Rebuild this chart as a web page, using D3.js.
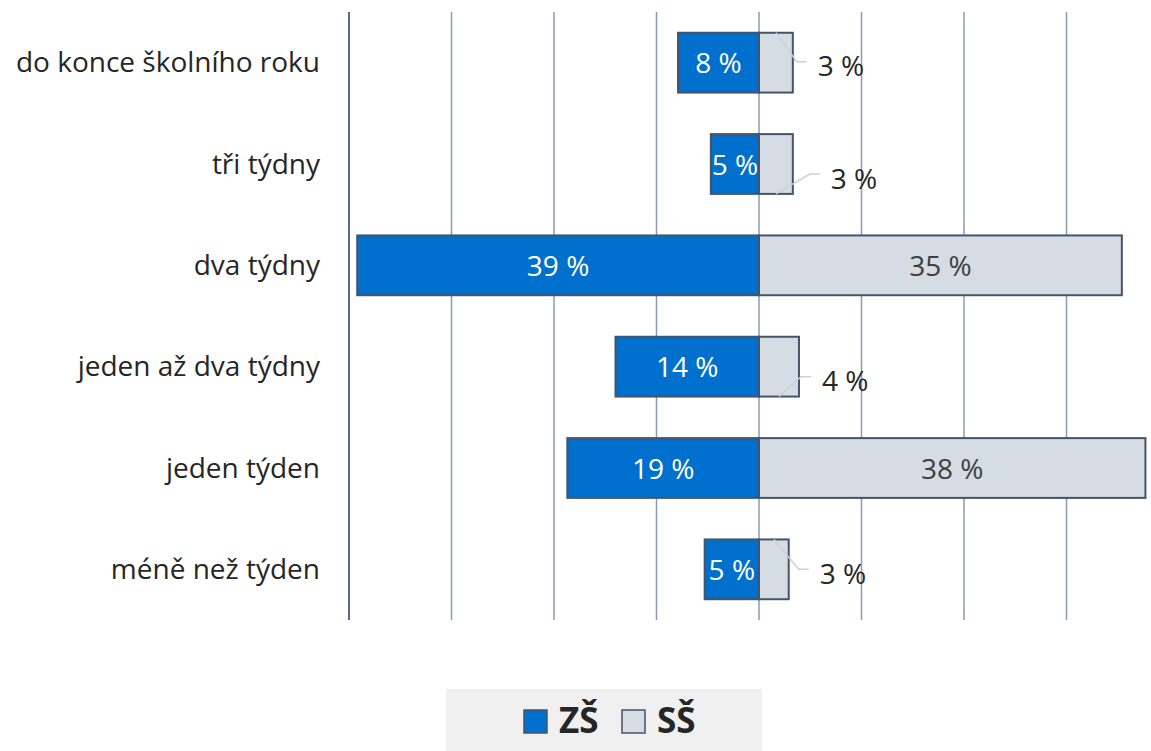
<!DOCTYPE html>
<html><head><meta charset="utf-8">
<script src="https://cdn.jsdelivr.net/npm/d3@7"></script>
<style>body{margin:0;background:#fff;} svg{display:block;font-family:"Open Sans","Noto Sans",sans-serif;}</style>
</head><body><svg id="c" width="1151" height="751"></svg>
<script>
const categories = ["do konce školního roku","tři týdny","dva týdny","jeden až dva týdny","jeden týden","méně než týden"];
const zsValues = [7.9, 4.7, 39.2, 14.0, 18.7, 5.3];
const ssValues = [3.3, 3.3, 35.4, 3.9, 37.7, 2.9];
const zsLabels = ["8 %","5 %","39 %","14 %","19 %","5 %"];
const ssLabels = ["3 %","3 %","35 %","4 %","38 %","3 %"];
const seriesNames = ["ZŠ","SŠ"];
const gridTicks = [-40,-30,-20,-10,0,10,20,30,40];
// callout offsets for small SS labels (layout only)
const callouts = {0:{dx:25,dy:4,anchor:"top"},1:{dx:38,dy:15,anchor:"bottom"},3:{dx:23,dy:15,anchor:"bottom"},5:{dx:31,dy:5,anchor:"top"}};

const svg = d3.select("#c");
const x = d3.scaleLinear().domain([-40,40]).range([349,1169]);
const y = d3.scaleBand().domain(categories).range([12,620]).paddingInner(0.41).paddingOuter(0.205);
const blue="#0070CE", grey="#D6DCE4", stroke="#44546A";

svg.append("g").selectAll("line").data(gridTicks.filter(t=>t>-40)).join("line")
  .attr("x1",d=>x(d)).attr("x2",d=>x(d)).attr("y1",12).attr("y2",620)
  .attr("stroke","#8C9BB5").attr("stroke-width",1.5);
svg.append("line").attr("x1",x(-40)).attr("x2",x(-40)).attr("y1",12).attr("y2",620)
  .attr("stroke","#5B6B85").attr("stroke-width",2);

svg.append("g").selectAll("text").data(categories).join("text")
  .attr("x",320).attr("y",d=>y(d)+y.bandwidth()/2).attr("dy","0.35em")
  .attr("text-anchor","end").attr("font-size",28).attr("fill","#262626").text(d=>d);

const g = svg.append("g");
g.selectAll("rect.zs").data(zsValues).join("rect").attr("class","zs")
  .attr("x",d=>x(-d)).attr("width",d=>x(0)-x(-d))
  .attr("y",(d,i)=>y(categories[i])).attr("height",y.bandwidth())
  .attr("fill",blue).attr("stroke",stroke).attr("stroke-width",2);
g.selectAll("rect.ss").data(ssValues).join("rect").attr("class","ss")
  .attr("x",x(0)).attr("width",d=>x(d)-x(0))
  .attr("y",(d,i)=>y(categories[i])).attr("height",y.bandwidth())
  .attr("fill",grey).attr("stroke",stroke).attr("stroke-width",2);

g.selectAll("text.zs").data(zsLabels).join("text")
  .attr("x",(d,i)=>(x(-zsValues[i])+x(0))/2).attr("y",(d,i)=>y(categories[i])+y.bandwidth()/2+1)
  .attr("dy","0.35em").attr("text-anchor","middle").attr("font-size",28).attr("fill","#fff").text(d=>d);

ssLabels.forEach((lab,i)=>{
  const cy=y(categories[i])+y.bandwidth()/2;
  const c=callouts[i];
  if(!c){
    g.append("text").attr("x",(x(0)+x(ssValues[i]))/2).attr("y",cy+1).attr("dy","0.35em")
     .attr("text-anchor","middle").attr("font-size",28).attr("fill","#404040").text(lab);
  } else {
    const bx=(x(0)+x(ssValues[i]))/2;
    const by=c.anchor==="top"?y(categories[i]):y(categories[i])+y.bandwidth();
    const tx=x(ssValues[i])+c.dx, ty=cy+c.dy, ly=ty-5;
    g.append("path").attr("d",`M${bx},${by}L${tx-21},${ly}L${tx-11},${ly}`)
     .attr("fill","none").attr("stroke","#D0D0D0").attr("stroke-width",1.5);
    g.append("text").attr("x",tx).attr("y",ty).attr("dy","0.35em")
     .attr("text-anchor","start").attr("font-size",28).attr("fill","#262626").text(lab);
  }
});

// legend
svg.append("rect").attr("x",446).attr("y",689).attr("width",316).attr("height",62).attr("fill","#F0F0F0");
const lg=svg.append("g");
const lx0=[524,622];
seriesNames.forEach((n,i)=>{
  lg.append("rect").attr("x",lx0[i]).attr("y",710).attr("width",23).attr("height",23)
    .attr("fill",i===0?blue:grey).attr("stroke",stroke).attr("stroke-width",1.5);
  lg.append("text").attr("x",lx0[i]+35).attr("y",721).attr("dy","0.35em")
    .attr("font-size",35).attr("font-weight","bold").attr("fill","#262626").text(n);
});
</script></body></html>
